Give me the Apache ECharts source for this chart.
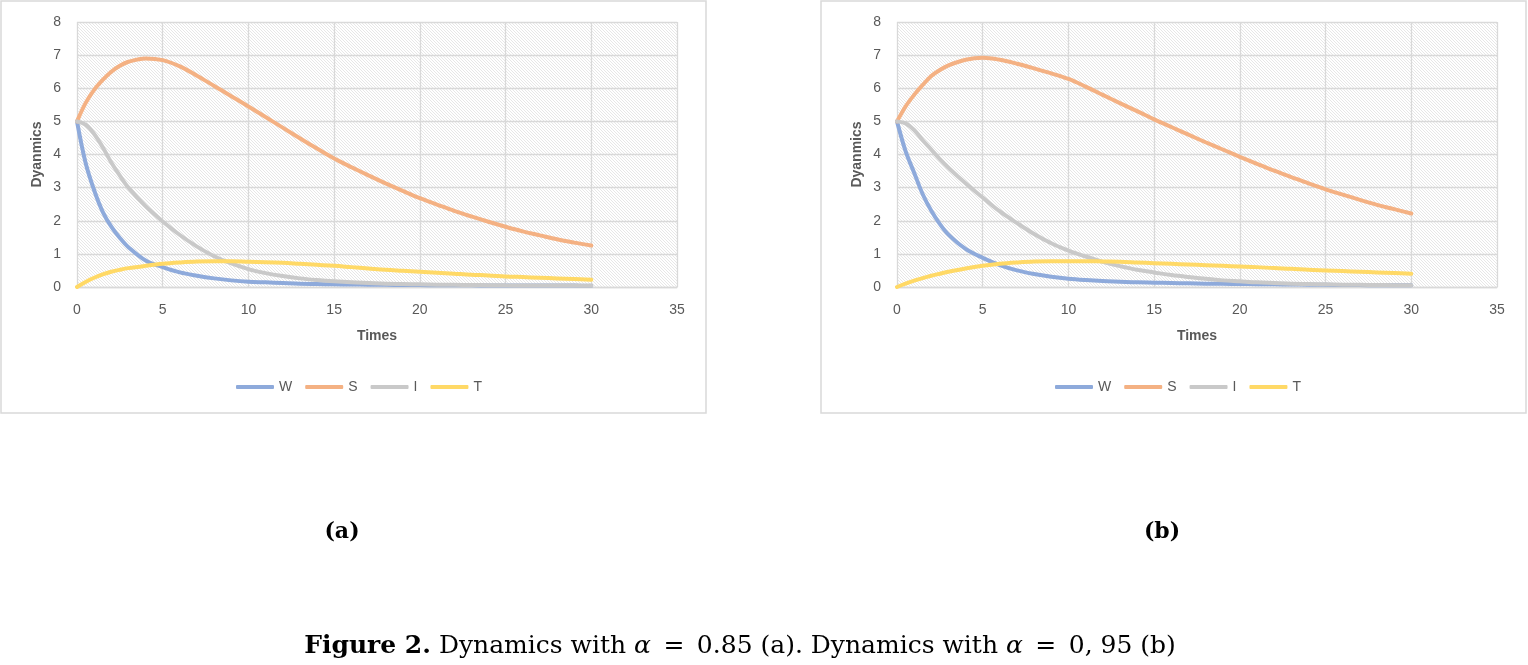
<!DOCTYPE html>
<html>
<head>
<meta charset="utf-8">
<script src="https://cdn.jsdelivr.net/npm/echarts@6/dist/echarts.min.js"></script>
<style>
  html, body { margin: 0; padding: 0; background: #fff; }
  #chart { width: 1528px; height: 665px; }
</style>
</head>
<body>
<div id="chart"></div>
<script>
// time points (finer steps at the start where the curves bend hard)
var times = [0, 0.5, 1, 1.5, 2, 2.5, 3, 4, 5, 6, 7, 8, 9, 10, 11, 12, 13, 14, 15, 16, 17, 18, 19, 20, 21, 22, 23, 24, 25, 26, 27, 28, 29, 30]
var xTicks = [0, 5, 10, 15, 20, 25, 30, 35]
var yTicks = [0, 1, 2, 3, 4, 5, 6, 7, 8]
var seriesNames = ['W', 'S', 'I', 'T']

// (a) alpha = 0.85
var wA = [5, 3.75, 2.92, 2.27, 1.82, 1.48, 1.2, 0.8, 0.6, 0.44, 0.34, 0.26, 0.2, 0.16, 0.14, 0.12, 0.1, 0.09, 0.08, 0.075, 0.07, 0.065, 0.06, 0.058, 0.055, 0.052, 0.05, 0.048, 0.046, 0.045, 0.044, 0.043, 0.042, 0.04]
var sA = [5, 5.55, 5.95, 6.25, 6.5, 6.68, 6.8, 6.9, 6.85, 6.66, 6.38, 6.07, 5.76, 5.45, 5.13, 4.81, 4.49, 4.18, 3.88, 3.62, 3.37, 3.13, 2.9, 2.68, 2.49, 2.3, 2.13, 1.97, 1.82, 1.68, 1.56, 1.44, 1.34, 1.25]
var iA = [5, 4.9, 4.62, 4.22, 3.76, 3.36, 3.0, 2.44, 1.98, 1.57, 1.22, 0.93, 0.71, 0.54, 0.42, 0.33, 0.26, 0.21, 0.17, 0.14, 0.12, 0.1, 0.09, 0.08, 0.07, 0.065, 0.06, 0.055, 0.05, 0.048, 0.046, 0.044, 0.042, 0.04]
var tA = [0, 0.15, 0.28, 0.38, 0.46, 0.52, 0.57, 0.64, 0.7, 0.74, 0.77, 0.78, 0.78, 0.76, 0.75, 0.73, 0.7, 0.67, 0.64, 0.6, 0.56, 0.52, 0.49, 0.46, 0.43, 0.4, 0.37, 0.35, 0.32, 0.3, 0.28, 0.26, 0.24, 0.22]

// (b) alpha = 0.95
var wB = [5, 4.1, 3.45, 2.8, 2.3, 1.9, 1.58, 1.15, 0.88, 0.66, 0.5, 0.39, 0.31, 0.25, 0.21, 0.18, 0.16, 0.14, 0.13, 0.12, 0.11, 0.1, 0.095, 0.09, 0.085, 0.08, 0.075, 0.07, 0.066, 0.062, 0.058, 0.055, 0.052, 0.05]
var sB = [5, 5.45, 5.8, 6.1, 6.37, 6.55, 6.69, 6.86, 6.92, 6.86, 6.74, 6.6, 6.45, 6.28, 6.05, 5.8, 5.55, 5.31, 5.06, 4.83, 4.6, 4.37, 4.15, 3.93, 3.72, 3.51, 3.32, 3.13, 2.95, 2.79, 2.63, 2.48, 2.35, 2.22]
var iB = [5, 4.94, 4.74, 4.43, 4.15, 3.86, 3.6, 3.13, 2.7, 2.28, 1.93, 1.6, 1.32, 1.1, 0.92, 0.76, 0.63, 0.52, 0.44, 0.36, 0.3, 0.25, 0.2, 0.17, 0.14, 0.12, 0.1, 0.09, 0.08, 0.07, 0.065, 0.06, 0.055, 0.05]
var tB = [0, 0.1, 0.19, 0.27, 0.34, 0.4, 0.46, 0.56, 0.64, 0.7, 0.74, 0.77, 0.78, 0.78, 0.78, 0.77, 0.76, 0.74, 0.72, 0.7, 0.68, 0.66, 0.64, 0.62, 0.6, 0.57, 0.55, 0.52, 0.5, 0.48, 0.46, 0.44, 0.42, 0.4]

var colors = ['#8eaadb', '#f4b183', '#c9c9c9', '#ffd966']
var textColor = '#595959'
var gridColor = '#d9d9d9'
var serif = '"DejaVu Serif"'

// hatched plot background like the excel pattern fill
function makeHatch() {
  var c = document.createElement('canvas')
  c.width = 3
  c.height = 3
  var ctx = c.getContext('2d')
  ctx.fillStyle = '#ffffff'
  ctx.fillRect(0, 0, 3, 3)
  ctx.strokeStyle = '#e4e4e4'
  ctx.lineWidth = 0.9
  ctx.beginPath()
  ctx.moveTo(-1, -1); ctx.lineTo(4, 4)
  ctx.moveTo(-1, 2); ctx.lineTo(1, 4)
  ctx.moveTo(2, -1); ctx.lineTo(4, 1)
  ctx.stroke()
  return c
}
var hatch = { image: makeHatch(), repeat: 'repeat' }

function pairs(vals) {
  return times.map(function (t, i) { return [t, vals[i]] })
}

function xAxis(idx) {
  return {
    type: 'value', gridIndex: idx,
    min: xTicks[0], max: xTicks[xTicks.length - 1], interval: xTicks[1] - xTicks[0],
    name: 'Times', nameLocation: 'middle', nameGap: 42,
    nameTextStyle: { color: textColor, fontSize: 14, fontWeight: 'bold', fontFamily: 'Liberation Sans' },
    axisLine: { show: true, lineStyle: { color: gridColor, width: 1.3 } },
    axisTick: { show: false },
    axisLabel: { color: textColor, fontSize: 14, margin: 16, fontFamily: 'Liberation Sans' },
    splitLine: { show: true, lineStyle: { color: gridColor, width: 1.3 } }
  }
}

function yAxis(idx) {
  return {
    type: 'value', gridIndex: idx,
    min: yTicks[0], max: yTicks[yTicks.length - 1], interval: yTicks[1] - yTicks[0],
    name: 'Dyanmics', nameLocation: 'middle', nameGap: 33,
    nameTextStyle: { color: textColor, fontSize: 14, fontWeight: 'bold', fontFamily: 'Liberation Sans' },
    axisLine: { show: false },
    axisTick: { show: false },
    axisLabel: { color: textColor, fontSize: 14, margin: 16, fontFamily: 'Liberation Sans' },
    splitLine: { show: true, lineStyle: { color: gridColor, width: 1.3 } }
  }
}

function lines(idx, sets) {
  return sets.map(function (vals, k) {
    return {
      name: seriesNames[k], type: 'line',
      xAxisIndex: idx, yAxisIndex: idx,
      data: pairs(vals),
      smooth: 0.35, symbol: 'none',
      lineStyle: { color: colors[k], width: 4, cap: 'round' },
      itemStyle: { color: colors[k] }
    }
  })
}

function legend(left) {
  return {
    data: seriesNames, left: left, top: 375,
    icon: 'roundRect', itemWidth: 38, itemHeight: 4, itemGap: 13,
    textStyle: { color: textColor, fontSize: 14, fontFamily: 'Liberation Sans' },
    selectedMode: false
  }
}

var chart = echarts.init(document.getElementById('chart'), null, { renderer: 'canvas' })

chart.setOption({
  animation: false,
  color: colors,
  grid: [
    { left: 77, top: 22, width: 600, height: 265, show: true, backgroundColor: hatch, borderWidth: 0 },
    { left: 897, top: 22, width: 600, height: 265, show: true, backgroundColor: hatch, borderWidth: 0 }
  ],
  xAxis: [xAxis(0), xAxis(1)],
  yAxis: [yAxis(0), yAxis(1)],
  legend: [legend(231), legend(1050)],
  series: lines(0, [wA, sA, iA, tA]).concat(lines(1, [wB, sB, iB, tB])),
  graphic: [
    { type: 'rect', shape: { x: 1, y: 1, width: 705, height: 412 }, style: { fill: 'none', stroke: gridColor, lineWidth: 1.5 }, silent: true },
    { type: 'rect', shape: { x: 821, y: 1, width: 705, height: 412 }, style: { fill: 'none', stroke: gridColor, lineWidth: 1.5 }, silent: true },
    { type: 'text', x: 342, y: 532, style: { text: '(a)', fill: '#000', font: 'bold 22px ' + serif, align: 'center', verticalAlign: 'middle' } },
    { type: 'text', x: 1162, y: 532, style: { text: '(b)', fill: '#000', font: 'bold 22px ' + serif, align: 'center', verticalAlign: 'middle' } },
    {
      type: 'text', x: 740, y: 646,
      style: {
        text: '{b|Figure 2.} Dynamics with {i|α}\u2002=\u20020.85 (a). Dynamics with {i|α}\u2002=\u20020, 95 (b)',
        align: 'center', verticalAlign: 'middle',
        fill: '#000', font: '25px ' + serif,
        rich: {
          b: { fontWeight: 'bold', fontSize: 25, fontFamily: 'DejaVu Serif', fill: '#000' },
          i: { fontStyle: 'italic', fontSize: 25, fontFamily: 'DejaVu Serif', fill: '#000' }
        }
      }
    }
  ]
})
</script>
</body>
</html>
